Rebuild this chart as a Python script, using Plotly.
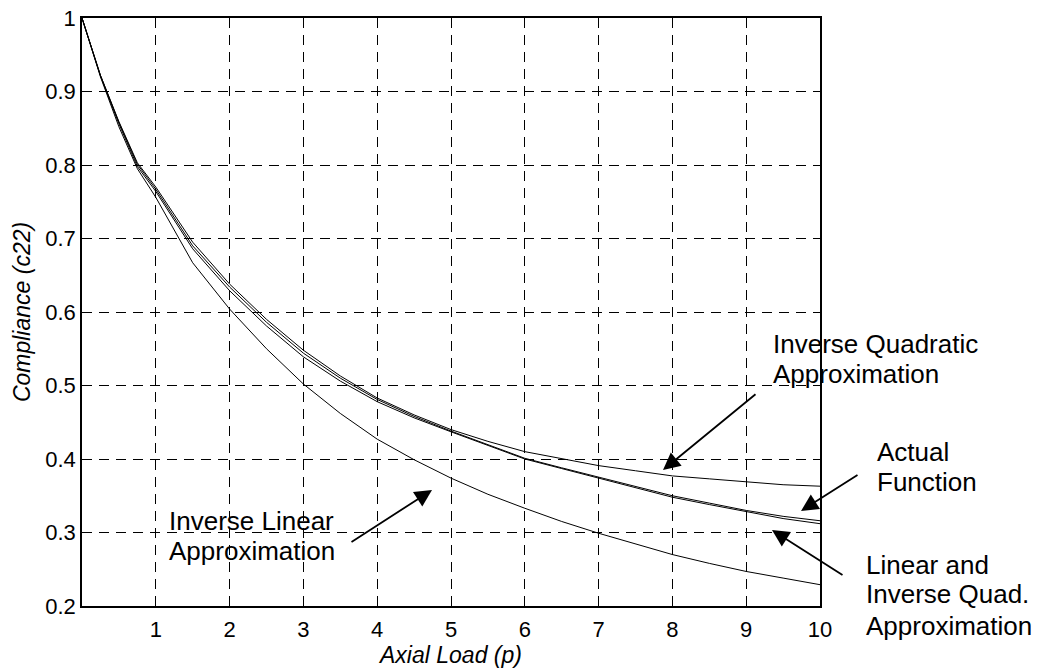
import plotly.graph_objects as go

# ---- data ----
p = [0, 0.25, 0.5, 0.75, 1, 1.5, 2, 2.5, 3, 3.5, 4, 4.5, 5, 5.5, 6, 6.5, 7, 7.5, 8, 8.5, 9, 9.5, 10]

actual = [1.0, 0.922, 0.858, 0.801, 0.767, 0.690, 0.634, 0.586, 0.544, 0.510, 0.481, 0.458,
          0.438, 0.419, 0.401, 0.388, 0.375, 0.362, 0.350, 0.340, 0.330, 0.322, 0.316]
inv_quad = [1.0, 0.922, 0.859, 0.803, 0.770, 0.695, 0.638, 0.590, 0.548, 0.513, 0.483, 0.460,
            0.440, 0.424, 0.410, 0.400, 0.391, 0.384, 0.377, 0.373, 0.369, 0.365, 0.363]
lin_inv_quad = [1.0, 0.921, 0.856, 0.798, 0.764, 0.686, 0.629, 0.581, 0.539, 0.506, 0.478, 0.456,
                0.437, 0.418, 0.400, 0.387, 0.374, 0.360, 0.348, 0.338, 0.328, 0.319, 0.312]
inv_lin = [1.0, 0.920, 0.852, 0.795, 0.756, 0.667, 0.604, 0.550, 0.502, 0.462, 0.427, 0.399,
           0.374, 0.352, 0.333, 0.315, 0.299, 0.284, 0.270, 0.258, 0.247, 0.238, 0.229]

x_ticks = [1, 2, 3, 4, 5, 6, 7, 8, 9, 10]
x_tick_labels = ["1", "2", "3", "4", "5", "6", "7", "8", "9", "10"]
y_ticks = [0.2, 0.3, 0.4, 0.5, 0.6, 0.7, 0.8, 0.9, 1.0]
y_tick_labels = ["0.2", "0.3", "0.4", "0.5", "0.6", "0.7", "0.8", "0.9", "1"]

FONT = "Liberation Sans, Arial, sans-serif"
W, H = 1048, 671
# plot area in screen pixels (page body margin removed below)
SL, SR, ST, SB = 82, 820, 18, 606
L, R, T, B = SL, SR, ST, SB

fig = go.Figure()
for name, ys in [("Actual Function", actual),
                 ("Inverse Quadratic Approximation", inv_quad),
                 ("Linear and Inverse Quad. Approximation", lin_inv_quad),
                 ("Inverse Linear Approximation", inv_lin)]:
    fig.add_trace(go.Scatter(x=p, y=ys, mode="lines", name=name,
                             line=dict(color="black", width=1), showlegend=False))

def px2paper(sx, sy):
    return (sx - SL) / (SR - SL), (SB - sy) / (SB - ST)

annots = []
# text lines: (text, left px, baseline px)
text_lines = [
    ("Inverse Quadratic", 773, 353),
    ("Approximation", 773, 383),
    ("Actual", 877, 461),
    ("Function", 877, 491),
    ("Linear and", 866, 574),
    ("Inverse Quad.", 866, 603),
    ("Approximation", 866, 635),
    ("Inverse Linear", 169, 530),
    ("Approximation", 169, 560),
]
for txt, lx, by in text_lines:
    xp, yp = px2paper(lx - 2, by - 9)
    annots.append(dict(text=txt, x=xp, y=yp, xref="paper", yref="paper",
                       xanchor="left", yanchor="middle", showarrow=False,
                       font=dict(family=FONT, size=26, color="black")))

# arrows: (tail px, head px)
arrows = [
    ((757, 393), (663, 470)),
    ((859, 474), (801, 511)),
    ((844, 576), (772, 530)),
    ((350, 543), (432, 490)),
]
for (tx, ty), (hx, hy) in arrows:
    xp, yp = px2paper(hx, hy)
    annots.append(dict(text="", x=xp, y=yp, xref="paper", yref="paper",
                       ax=tx - hx, ay=ty - hy, axref="pixel", ayref="pixel",
                       showarrow=True, arrowhead=2, arrowsize=1.9, arrowwidth=1.8,
                       arrowcolor="black"))

fig.update_layout(
    width=W, height=H,
    margin=dict(l=L, r=W - R, t=T, b=H - B, autoexpand=False),
    paper_bgcolor="white", plot_bgcolor="white",
    font=dict(family=FONT, size=22, color="black"),
    annotations=annots,
)
common = dict(showline=True, linecolor="black", linewidth=1.5, mirror=True,
              showgrid=True, gridcolor="black", gridwidth=1, griddash="10px,7px",
              zeroline=False, ticks="inside", ticklen=5, tickcolor="black",
              ticklabeloverflow="allow",
              tickfont=dict(family=FONT, size=22, color="black"))
fig.update_xaxes(range=[0, 10], tickvals=x_ticks, ticktext=x_tick_labels,
                 title=dict(text="<i>Axial Load (p)</i>", font=dict(family=FONT, size=23), standoff=4),
                 ticklabelstandoff=3, **common)
fig.update_yaxes(range=[0.2, 1.0], tickvals=y_ticks, ticktext=y_tick_labels,
                 title=dict(text="<i>Compliance (c22)</i>", font=dict(family=FONT, size=23), standoff=8),
                 ticklabelstandoff=0, **common)

fig.write_html("out.html", config={"displayModeBar": False},
               post_script="document.body.style.margin='0';document.body.style.overflow='hidden';")
